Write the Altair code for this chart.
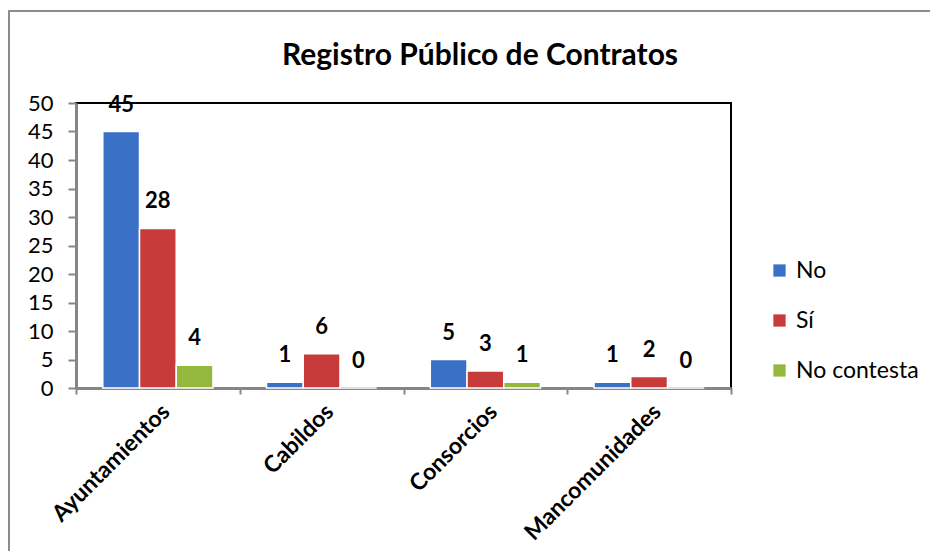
import altair as alt
import pandas as pd

categories = ["Ayuntamientos", "Cabildos", "Consorcios", "Mancomunidades"]
series = ["No", "Sí", "No contesta"]
no_values = [45, 1, 5, 1]
si_values = [28, 6, 3, 2]
nc_values = [4, 0, 1, 0]
colors = ["#3a70c6", "#c83b3b", "#93b83c"]
y_ticks = list(range(0, 51, 5))
title_text = "Registro Público de Contratos"

rows = []
for i, c in enumerate(categories):
    for s, vals in zip(series, [no_values, si_values, nc_values]):
        rows.append({"categoria": c, "serie": s, "valor": vals[i]})
df = pd.DataFrame(rows)

FONT = "Lato"
GREY = "#868686"

x = alt.X(
    "categoria:N", sort=categories,
    scale=alt.Scale(paddingInner=0, paddingOuter=0),
    axis=alt.Axis(title=None, labelAngle=-45, labelFontSize=23, labelFontWeight="bold",
                  labelFont=FONT, labelColor="black", domainColor=GREY, domainWidth=3,
                  tickColor=GREY, tickWidth=2, tickSize=6, tickBand="extent",
                  labelPadding=6, labelLimit=400),
)
y = alt.Y(
    "valor:Q",
    scale=alt.Scale(domain=[0, 50], nice=False),
    axis=alt.Axis(title=None, values=y_ticks, grid=False, labelFontSize=22, labelFont=FONT,
                  labelColor="black", domainColor=GREY, domainWidth=3, tickColor=GREY,
                  tickWidth=2, tickSize=8, labelPadding=15),
)
xoff = alt.XOffset("serie:N", sort=series, scale=alt.Scale(paddingOuter=0.73, paddingInner=0))
color = alt.Color(
    "serie:N", sort=series,
    scale=alt.Scale(domain=series, range=colors),
    legend=alt.Legend(title=None, orient="none", legendX=692, legendY=156, symbolType="square",
                      symbolSize=150, labelFontSize=23, labelFont=FONT, labelColor="black",
                      rowPadding=26, labelOffset=5, symbolStrokeWidth=0, labelLimit=300),
)

frame = alt.Chart(pd.DataFrame({"a": [0]})).mark_rect(
    fill=None, stroke="#8c8c8c", strokeWidth=2
).encode(x=alt.value(-67), x2=alt.value(880), y=alt.value(-92), y2=alt.value(480))

title = alt.Chart(pd.DataFrame({"t": [title_text]})).mark_text(
    fontSize=30, fontWeight="bold", font=FONT, color="black", align="center",
    baseline="alphabetic"
).encode(text="t:N", x=alt.value(404), y=alt.value(-38))

bars = alt.Chart(df).mark_bar(stroke="white", strokeWidth=1.5).encode(
    x=x, y=y, xOffset=xoff, color=color
)
labels = alt.Chart(df).mark_text(
    dy=-27, fontSize=22, fontWeight="bold", font=FONT, color="black", baseline="middle"
).encode(x=x, y=y, xOffset=xoff, text="valor:Q")

chart = alt.layer(frame, title, bars, labels).properties(
    width=655, height=285,
    autosize=alt.AutoSizeParams(type="none"),
    padding={"left": 68, "top": 95, "right": 199, "bottom": 163},
).configure_view(stroke="black", strokeWidth=2)

chart.save("out.html", embed_options={"renderer": "svg", "actions": False})
